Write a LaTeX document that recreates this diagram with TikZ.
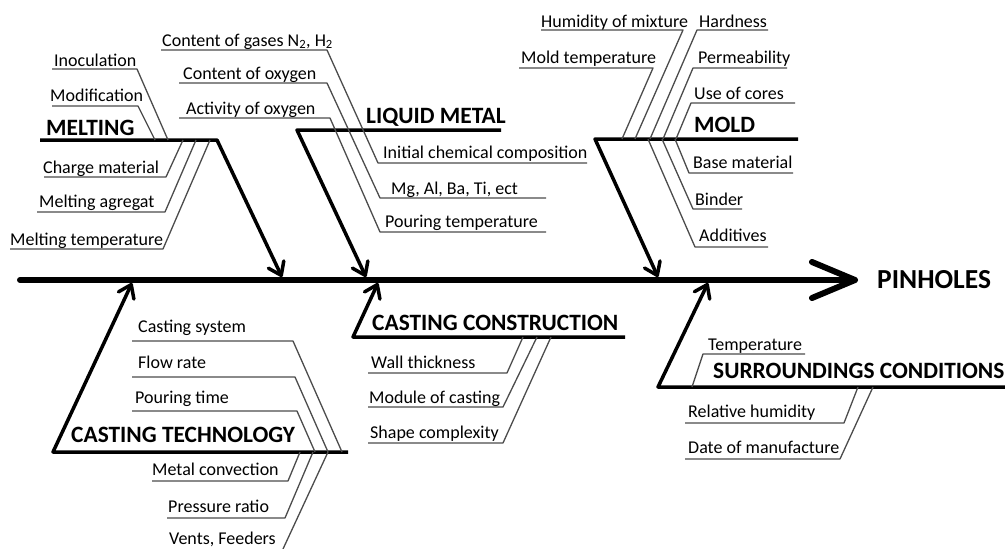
\documentclass[tikz,border=0pt]{standalone}
\usepackage{fontspec}
\setmainfont{Carlito}
\usetikzlibrary{arrows.meta}
\begin{document}
\begin{tikzpicture}[x=1pt,y=-1pt,
  spine/.style={line width=6pt, line cap=round, line join=round},
  branch/.style={line width=3.5pt, line join=round, -{Straight Barb[length=12pt,width=17pt,round]}},
  subbone/.style={line width=1.3pt, black!70, line join=round},
  cause/.style={anchor=base west, inner sep=0pt, font=\fontsize{18}{20}\selectfont},
  group/.style={anchor=base west, inner sep=0pt, font=\bfseries\fontsize{23.4}{27}\selectfont},
  effect/.style={anchor=base west, inner sep=0pt, font=\bfseries\fontsize{27.5}{31}\selectfont}]
\useasboundingbox (0,0) rectangle (1005,549);
\fill[white] (0,0) rectangle (1005,549);

% ---------- main spine ----------
\coordinate (sStart) at (20,280);
\coordinate (sTip) at (855,280);
\coordinate (sBarbA) at (812,262);
\coordinate (sBarbB) at (812,298);
\draw[spine] (sStart) -- (sTip);
\draw[spine] (sBarbA) -- (sTip) -- (sBarbB);
\node[effect] (pinholes) at (877,288) {PINHOLES};

% ---------- main branches ----------
% Melting
\coordinate (meL) at (40,140);   \coordinate (meC) at (217,140);  \coordinate (meT) at (282,277);
% Liquid metal
\coordinate (lmR) at (501,130);  \coordinate (lmC) at (297,130);  \coordinate (lmT) at (366,277);
% Mold
\coordinate (moR) at (798,139);  \coordinate (moC) at (595,139);  \coordinate (moT) at (658,277);
% Casting technology
\coordinate (ctR) at (348,452);  \coordinate (ctC) at (53,452);   \coordinate (ctT) at (132,283);
% Casting construction
\coordinate (ccR) at (625,337);  \coordinate (ccC) at (353,337);  \coordinate (ccT) at (378,283);
% Surroundings conditions
\coordinate (suR) at (1005,387); \coordinate (suC) at (658,387);  \coordinate (suT) at (708,283);

\draw[branch] (meL) -- (meC) -- (meT);
\draw[branch] (lmR) -- (lmC) -- (lmT);
\draw[branch] (moR) -- (moC) -- (moT);
\draw[branch] (ctR) -- (ctC) -- (ctT);
\draw[branch] (ccR) -- (ccC) -- (ccT);
\draw[branch] (suR) -- (suC) -- (suT);

\node[group] (melting) at (46,135) {MELTING};
\node[group] (liquid) at (366,123) {LIQUID METAL};
\node[group] (mold) at (694,132) {MOLD};
\node[group] (tech) at (71,442) {CASTING TECHNOLOGY};
\node[group] (constr) at (372,330) {CASTING CONSTRUCTION};
\node[group] (surr) at (713,378) {SURROUNDINGS CONDITIONS};

% ---------- melting causes ----------
\node[cause] (inoc) at (54,66) {Inoculation};
\node[cause] (modif) at (50,101) {Modification};
\node[cause] (charge) at (43,173) {Charge material};
\node[cause] (agreg) at (39,207) {Melting agregat};
\node[cause] (mtemp) at (10,245) {Melting temperature};
\draw[subbone] (52,69) -- (137,69) -- (168,140);
\draw[subbone] (52,106) -- (138,106) -- (155,140);
\draw[subbone] (44,177) -- (166,177) -- (183,140);
\draw[subbone] (37,212) -- (165,212) -- (196,140);
\draw[subbone] (10,249) -- (163,249) -- (210,140);

% ---------- liquid metal causes ----------
\node[cause] (gases) at (162,46) {Content of gases N\textsubscript{2}, H\textsubscript{2}};
\node[cause] (oxy) at (183,79) {Content of oxygen};
\node[cause] (actox) at (186,114) {Activity of oxygen};
\node[cause] (chem) at (383,158) {Initial chemical composition};
\node[cause] (mgal) at (391,194) {Mg, Al, Ba, Ti, ect};
\node[cause] (ptemp) at (385,227) {Pouring temperature};
\draw[subbone] (161,50) -- (327,50) -- (378,163) -- (587,163);
\draw[subbone] (179,83) -- (327,83) -- (380,198) -- (546,198);
\draw[subbone] (179,118) -- (330,118) -- (380,232) -- (546,232);

% ---------- mold causes ----------
\node[cause] (humid) at (541,27) {Humidity of mixture};
\node[cause] (moldt) at (521,63) {Mold temperature};
\node[cause] (hard) at (699,27) {Hardness};
\node[cause] (perm) at (698,63) {Permeability};
\node[cause] (cores) at (694,99) {Use of cores};
\node[cause] (base) at (693,168) {Base material};
\node[cause] (binder) at (695,205) {Binder};
\node[cause] (addit) at (699,241) {Additives};
\draw[subbone] (541,30) -- (683,30) -- (635,139);
\draw[subbone] (519,68) -- (653,68) -- (622,139);
\draw[subbone] (768,30) -- (697,30) -- (650,139);
\draw[subbone] (787,68) -- (693,68) -- (663,139);
\draw[subbone] (795,103) -- (691,103) -- (676,139);
\draw[subbone] (675,139) -- (689,173) -- (793,173);
\draw[subbone] (662,139) -- (693,209) -- (742,209);
\draw[subbone] (648,139) -- (695,247) -- (768,247);

% ---------- casting technology causes ----------
\node[cause] (csys) at (138,332) {Casting system};
\node[cause] (flow) at (138,368) {Flow rate};
\node[cause] (ptime) at (135,403) {Pouring time};
\node[cause] (conv) at (152,475) {Metal convection};
\node[cause] (press) at (168,512) {Pressure ratio};
\node[cause] (vents) at (169,544) {Vents, Feeders};
\draw[subbone] (132,341) -- (293,341) -- (342,452);
\draw[subbone] (132,377) -- (295,377) -- (328,452);
\draw[subbone] (132,411) -- (297,411) -- (315,452);
\draw[subbone] (152,481) -- (288,481) -- (300,452);
\draw[subbone] (167,518) -- (285,518) -- (313,452);
\draw[subbone] (283,549) -- (328,452);

% ---------- casting construction causes ----------
\node[cause] (wall) at (371,368) {Wall thickness};
\node[cause] (module) at (369,403) {Module of casting};
\node[cause] (shape) at (370,438) {Shape complexity};
\draw[subbone] (368,373) -- (507,373) -- (523,337);
\draw[subbone] (368,407) -- (503,407) -- (537,337);
\draw[subbone] (368,443) -- (503,443) -- (551,337);

% ---------- surroundings causes ----------
\node[cause] (stemp) at (708,350) {Temperature};
\node[cause] (relh) at (688,417) {Relative humidity};
\node[cause] (date) at (688,453) {Date of manufacture};
\draw[subbone] (805,354) -- (703,354) -- (692,387);
\draw[subbone] (685,423) -- (844,423) -- (858,387);
\draw[subbone] (685,459) -- (840,459) -- (873,387);
\end{tikzpicture}
\end{document}
